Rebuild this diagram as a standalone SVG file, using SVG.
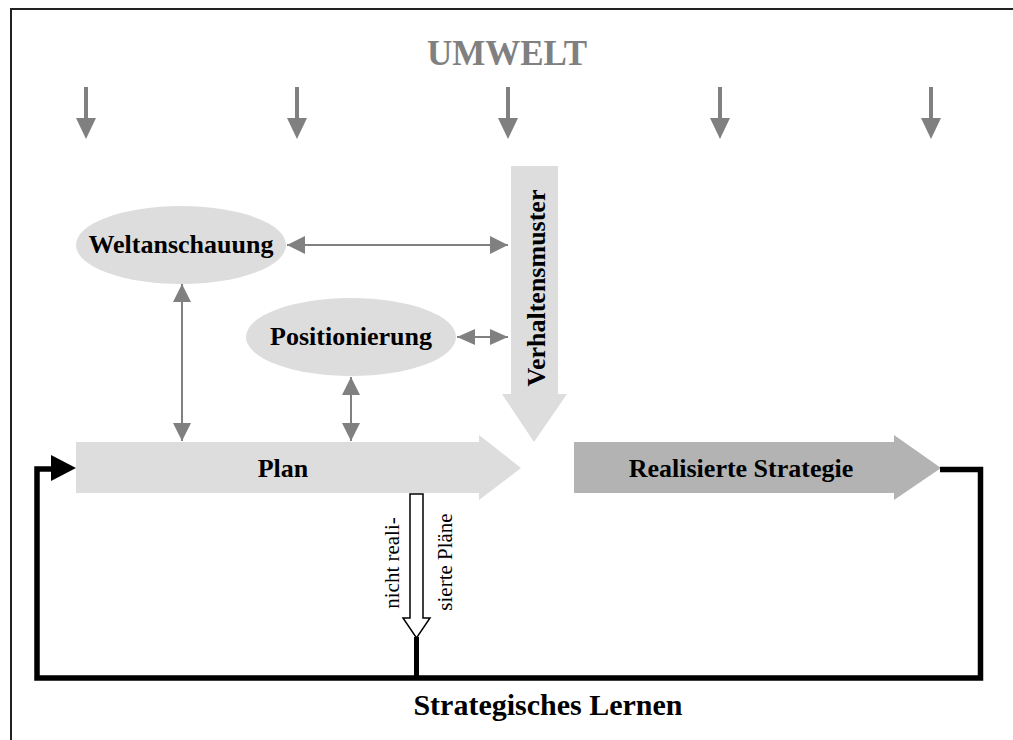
<svg xmlns="http://www.w3.org/2000/svg" width="1013" height="740" viewBox="0 0 1013 740">
<defs>
<style>
text{font-family:"Liberation Serif","Times New Roman",serif;fill:#000}
.b{font-weight:bold;font-size:26px}
.lbl{font-size:21px}
.g{fill:#808080}
.gl{stroke:#808080;stroke-width:2;fill:none}
.light{fill:#dddddd}
</style>
<marker id="ah" viewBox="0 0 18 18" refX="18" refY="9" markerWidth="18" markerHeight="18" markerUnits="userSpaceOnUse" orient="auto-start-reverse">
<path d="M0,0 L18,9 L0,18 Z" fill="#808080"/>
</marker>
<marker id="ahs" viewBox="0 0 18 16" refX="18" refY="8" markerWidth="18" markerHeight="16" markerUnits="userSpaceOnUse" orient="auto-start-reverse">
<path d="M0,0 L18,8 L0,16 Z" fill="#808080"/>
</marker>
</defs>
<rect width="1013" height="740" fill="#fff"/>
<g id="frame">
<path d="M11,740 V9 H1013" fill="none" stroke="#222" stroke-width="2"/>
</g>
<g id="umwelt">
<text x="507" y="65" text-anchor="middle" font-weight="bold" font-size="35" style="fill:#808080">UMWELT</text>
<g class="g">
<rect x="84" y="87" width="4" height="32"/><polygon points="76,118 96,118 86,139"/>
<rect x="295" y="87" width="4" height="32"/><polygon points="287,118 307,118 297,139"/>
<rect x="506" y="87" width="4" height="32"/><polygon points="498,118 518,118 508,139"/>
<rect x="718" y="87" width="4" height="32"/><polygon points="710,118 730,118 720,139"/>
<rect x="929" y="87" width="4" height="32"/><polygon points="921,118 941,118 931,139"/>
</g>
</g>
<g id="plan">
<polygon class="light" points="76,442 479,442 479,435 521,468 479,500 479,493 76,493"/>
<text class="b" x="283" y="477" text-anchor="middle">Plan</text>
</g>
<g id="verhaltensmuster">
<polygon class="light" points="511,166 558,166 558,394 567,394 534,442 502,394 511,394"/>
<text class="b" transform="translate(545,288) rotate(-90)" text-anchor="middle">Verhaltensmuster</text>
</g>
<g id="realisierte">
<polygon fill="#b3b3b3" points="574,442 894,442 894,435 941,468 894,500 894,493 574,493"/>
<text class="b" x="741" y="477" text-anchor="middle">Realisierte Strategie</text>
</g>
<g id="weltanschauung">
<ellipse class="light" cx="181" cy="245" rx="105" ry="39"/>
<text class="b" x="181" y="253" text-anchor="middle">Weltanschauung</text>
</g>
<g id="positionierung">
<ellipse class="light" cx="351" cy="337" rx="105" ry="39"/>
<text class="b" x="351" y="345" text-anchor="middle">Positionierung</text>
</g>
<g id="connectors">
<line class="gl" x1="287" y1="245" x2="508" y2="245" marker-start="url(#ah)" marker-end="url(#ah)"/>
<line class="gl" x1="457" y1="337" x2="508" y2="337" marker-start="url(#ahs)" marker-end="url(#ahs)"/>
<line class="gl" x1="182" y1="284" x2="182" y2="441" marker-start="url(#ah)" marker-end="url(#ah)"/>
<line class="gl" x1="351" y1="377" x2="351" y2="441" marker-start="url(#ah)" marker-end="url(#ah)"/>
<path d="M940,469.5 H980.5 V678 H37 V469 H52" fill="none" stroke="#000" stroke-width="5.5"/>
<polygon points="51,455 76,468 51,481" fill="#000"/>
<line x1="416.5" y1="637" x2="416.5" y2="678" stroke="#000" stroke-width="5"/>
<polygon points="410,494 423,494 423,618 430,618 416.5,638 403,618 410,618" fill="#fff" stroke="#000" stroke-width="1.5"/>
</g>
<g id="nicht-realisiert">
<text class="lbl" transform="translate(399,563) rotate(-90)" text-anchor="middle">nicht reali-</text>
<text class="lbl" transform="translate(452,562) rotate(-90)" text-anchor="middle">sierte Pläne</text>
</g>
<g id="lernen">
<text x="548" y="715" text-anchor="middle" font-weight="bold" font-size="30">Strategisches Lernen</text>
</g>
</svg>
